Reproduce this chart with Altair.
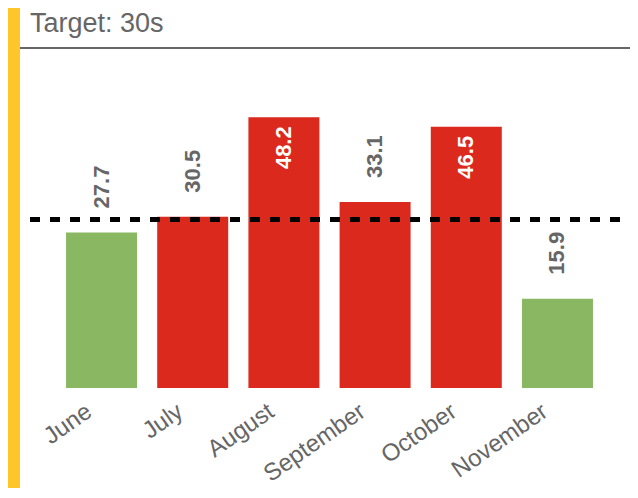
import altair as alt
import pandas as pd

months = ["June", "July", "August", "September", "October", "November"]
values = [27.7, 30.5, 48.2, 33.1, 46.5, 15.9]
target = 30
title_text = "Target: 30s"

GREEN = "#8AB862"
RED = "#DB291D"
YELLOW = "#FFC629"
GREY = "#666666"
FONT = "Liberation Sans"

df = pd.DataFrame({"month": months, "value": values})
df["status"] = ["over" if v > target else "under" for v in values]
df["inside"] = [v > 40 for v in values]
df["target"] = target
df["title"] = [title_text] + [""] * (len(months) - 1)

W, H = 599, 337
PB = 100
PR = 1

x = alt.X(
    "month:N",
    sort=months,
    scale=alt.Scale(paddingInner=0.2215, paddingOuter=0.395),
    axis=alt.Axis(
        title=None, labelAngle=-35, labelFontSize=24, labelColor=GREY,
        labelFont=FONT, domain=False, ticks=False, labelPadding=11, labelOffset=-19,
    ),
)
yscale = alt.Scale(domain=[0, 60], nice=False)
y = alt.Y("value:Q", scale=yscale, axis=None)

base = alt.Chart(df)

bars = base.mark_bar().encode(
    x=x, y=y,
    color=alt.Color("status:N", scale=alt.Scale(domain=["under", "over"], range=[GREEN, RED]), legend=None),
)

lab_out = base.transform_filter("!datum.inside").mark_text(
    angle=270, align="left", baseline="middle", dx=24,
    fontSize=22, fontWeight="bold", font=FONT, color=GREY,
).encode(x=x, y=y, text=alt.Text("value:Q", format=".1f"))

lab_in = base.transform_filter("datum.inside").mark_text(
    angle=270, align="right", baseline="middle", dx=-9,
    fontSize=22, fontWeight="bold", font=FONT, color="white",
).encode(x=x, y=y, text=alt.Text("value:Q", format=".1f"))

first = base.transform_filter("datum.title != ''")

target_rule = first.mark_rule(
    color="black", strokeWidth=5, strokeDash=[10, 10]
).encode(y=alt.Y("target:Q", scale=yscale, axis=None), x=alt.value(0), x2=alt.value(W + PR))

yellow = first.mark_rect(color=YELLOW).encode(
    x=alt.value(-22), x2=alt.value(-10), y=alt.value(-43), y2=alt.value(H + PB)
)
underline = first.mark_rule(color=GREY, strokeWidth=2).encode(
    x=alt.value(-10), x2=alt.value(W + PR), y=alt.value(-3)
)
title = first.mark_text(
    align="left", baseline="alphabetic", fontSize=27, font=FONT, color=GREY
).encode(x=alt.value(0), y=alt.value(-19), text="title:N")

chart = alt.layer(bars, target_rule, lab_out, lab_in, yellow, underline, title).properties(
    width=W, height=H,
    autosize=alt.AutoSizeParams(type="none"),
    padding={"left": 22, "top": 43, "right": PR, "bottom": PB},
).configure_view(stroke=None)

chart.save("out.html", embed_options={"renderer": "svg", "actions": False})
